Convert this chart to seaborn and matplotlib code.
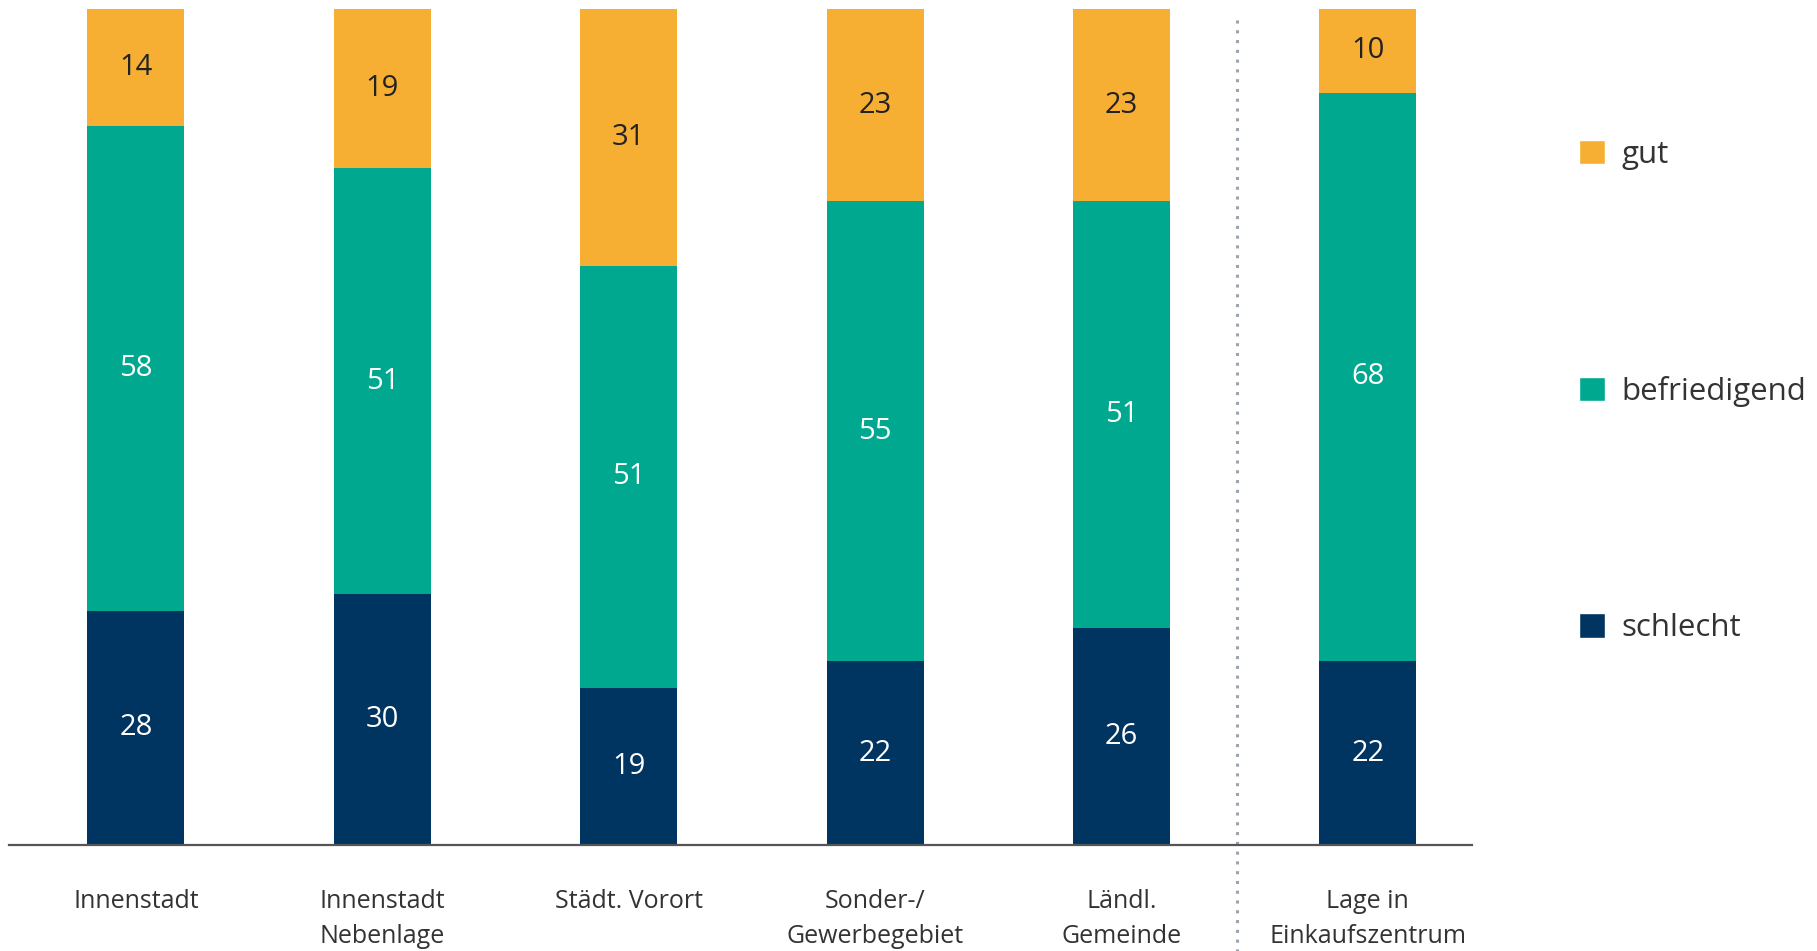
import numpy as np
import pandas as pd
import matplotlib
matplotlib.use("Agg")
import matplotlib.pyplot as plt
import matplotlib.transforms as mtransforms
from matplotlib.patches import Patch
import seaborn as sns

# ---- data ----
categories = ["Innenstadt", "Innenstadt\nNebenlage", "Städt. Vorort",
              "Sonder-/\nGewerbegebiet", "Ländl.\nGemeinde", "Lage in\nEinkaufszentrum"]
schlecht = [28, 30, 19, 22, 26, 22]
befriedigend = [58, 51, 51, 55, 51, 68]
gut = [14, 19, 31, 23, 23, 10]
series_names = ["gut", "befriedigend", "schlecht"]

# ---- style ----
sns.set_theme(style="white")
plt.rcParams["font.family"] = ["Open Sans", "DejaVu Sans"]

C_GUT = "#F6AF33"
C_BEF = "#00A88F"
C_SCH = "#003461"

df = pd.DataFrame({"cat": categories, "gut": gut,
                   "befriedigend": befriedigend, "schlecht": schlecht})
total = df[["gut", "befriedigend", "schlecht"]].sum(axis=1)
# normalise to 100 % stacked columns
df["p_sch"] = df["schlecht"] / total * 100
df["p_bef"] = df["befriedigend"] / total * 100
df["p_gut"] = df["gut"] / total * 100
df["top_sch"] = df["p_sch"]
df["top_bef"] = df["p_sch"] + df["p_bef"]
df["top_gut"] = df["top_bef"] + df["p_gut"]

fig = plt.figure(figsize=(18.17, 9.51), dpi=100)
ax = fig.add_axes([0.005, 0.1115, 0.805, 0.879])

bw = 0.394
sns.barplot(data=df, x="cat", y="top_gut", color=C_GUT, width=bw,
            saturation=1, ax=ax, linewidth=0, order=categories)
sns.barplot(data=df, x="cat", y="top_bef", color=C_BEF, width=bw,
            saturation=1, ax=ax, linewidth=0, order=categories)
sns.barplot(data=df, x="cat", y="top_sch", color=C_SCH, width=bw,
            saturation=1, ax=ax, linewidth=0, order=categories)

# value labels
for i, row in df.iterrows():
    ax.text(i, row["p_sch"] / 2, f"{row['schlecht']}", ha="center", va="center",
            color="white", fontsize=21)
    ax.text(i, row["top_sch"] + row["p_bef"] / 2, f"{row['befriedigend']}",
            ha="center", va="center", color="white", fontsize=21)
    ax.text(i, row["top_bef"] + row["p_gut"] / 2, f"{row['gut']}",
            ha="center", va="center", color="#222222", fontsize=21)

ax.set_ylim(0, 100)
ax.set_xlim(-0.515, 5.422)
ax.set_xlabel("")
ax.set_ylabel("")
ax.set_yticks([])
ax.tick_params(axis="x", length=0, pad=32)
ax.set_xticks(range(len(categories)))
ax.set_xticklabels(categories, fontsize=18, color="#333333", linespacing=1.5)
for s in ["top", "right", "left"]:
    ax.spines[s].set_visible(False)
ax.spines["bottom"].set_color("#555555")
ax.spines["bottom"].set_linewidth(1.6)

# dotted separator between categories 5 and 6
trans = mtransforms.blended_transform_factory(ax.transData, ax.transAxes)
ax.plot([4.47, 4.47], [0.987, -0.14], transform=trans, clip_on=False,
        color="#9aa2ad", linestyle=(0, (1, 2.2)), linewidth=2.2)

# legend
handles = [Patch(facecolor=C_GUT, label="gut"),
           Patch(facecolor=C_BEF, label="befriedigend"),
           Patch(facecolor=C_SCH, label="schlecht")]
leg = fig.legend(handles=handles, labels=series_names, loc="upper left",
                 bbox_to_anchor=(0.869, 0.853), frameon=False, fontsize=22.5,
                 handlelength=0.82, handleheight=0.82, handletextpad=0.55,
                 labelspacing=6.6, borderpad=0, borderaxespad=0)
for t in leg.get_texts():
    t.set_color("#333333")

fig.savefig("out.png", dpi=100)
